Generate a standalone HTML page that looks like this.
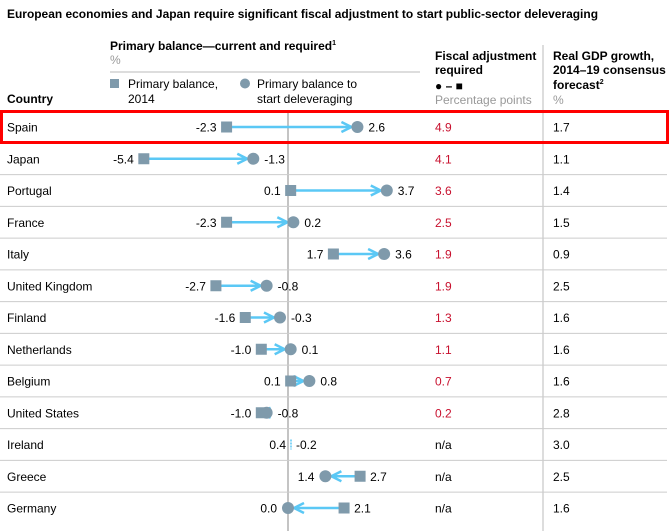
<!DOCTYPE html>
<html><head><meta charset="utf-8"><style>
body{margin:0;background:#fff;}
svg{display:block;font-family:"Liberation Sans",Arial,sans-serif;}
</style></head><body>
<svg id="c" width="670" height="531" viewBox="0 0 670 531">
<text x="7" y="18" font-size="12" font-weight="bold" fill="#000" textLength="591" lengthAdjust="spacingAndGlyphs">European economies and Japan require significant fiscal adjustment to start public-sector deleveraging</text>
<g font-size="12" fill="#000">
<text x="110" y="50" font-weight="bold">Primary balance—current and required<tspan font-size="7" dy="-5">1</tspan></text>
<text x="110" y="64" fill="#999">%</text>
<line x1="110" y1="72" x2="420" y2="72" stroke="#bbb" stroke-width="1"/>
<rect x="110" y="79" width="9" height="9" fill="#7f9aab"/>
<text x="128" y="88">Primary balance,</text>
<text x="128" y="103">2014</text>
<circle cx="245" cy="83.5" r="5" fill="#7f9aab"/>
<text x="257" y="88">Primary balance to</text>
<text x="257" y="103">start deleveraging</text>
<text x="7" y="103" font-weight="bold">Country</text>
<text x="435" y="60" font-weight="bold">Fiscal adjustment</text>
<text x="435" y="74" font-weight="bold">required</text>
<text x="435" y="90" font-weight="bold">● – ■</text>
<text x="435" y="104" fill="#999">Percentage points</text>
<text x="553" y="60" font-weight="bold">Real GDP growth,</text>
<text x="553" y="74" font-weight="bold">2014–19 consensus</text>
<text x="553" y="89" font-weight="bold">forecast<tspan font-size="7" dy="-5">2</tspan></text>
<text x="553" y="104" fill="#999">%</text>
</g>
<line x1="543" y1="45" x2="543" y2="531" stroke="#bbb"/>
<line x1="288" y1="111" x2="288" y2="531" stroke="#888"/>
<defs><marker id="ah" viewBox="0 0 10 10" refX="9" refY="5" markerWidth="5" markerHeight="5" orient="auto-start-reverse"><path d="M1,1 L9,5 L1,9" fill="none" stroke="#5bc8f5" stroke-width="2"/></marker></defs>
<g id="rows"></g>
<rect x="1.5" y="111.5" width="666" height="31" fill="none" stroke="#f00" stroke-width="3"/>
</svg>
<script>
const countries=["Spain","Japan","Portugal","France","Italy","United Kingdom","Finland","Netherlands","Belgium","United States","Ireland","Greece","Germany"];
const balance2014=[-2.3,-5.4,0.1,-2.3,1.7,-2.7,-1.6,-1.0,0.1,-1.0,0.4,2.7,2.1];
const balanceRequired=[2.6,-1.3,3.7,0.2,3.6,-0.8,-0.3,0.1,0.8,-0.8,-0.2,1.4,0.0];
const fiscalLabels=["4.9","4.1","3.6","2.5","1.9","1.9","1.3","1.1","0.7","0.2","n/a","n/a","n/a"];
const gdpLabels=["1.7","1.1","1.4","1.5","0.9","2.5","1.6","1.6","1.6","2.8","3.0","2.5","1.6"];
const NS="http://www.w3.org/2000/svg";
const g=document.getElementById('rows');
const x=v=>288+v*26.7;
const rowY=i=>127+i*31.75;
function mk(t,a){const e=document.createElementNS(NS,t);for(const k in a)e.setAttribute(k,a[k]);g.appendChild(e);return e;}
countries.forEach((c,i)=>{
 const y=rowY(i);
 if(i>0){const l=mk('line',{x1:0,y1:y-15.9,x2:667,y2:y-15.9,stroke:'#ccc'});
 
 }
 const t=mk('text',{x:7,y:y+4.5,'font-size':12});t.textContent=c;
 
 
 const a=balance2014[i],b=balanceRequired[i];
 const xa=x(a),xb=x(b);
 const ireland=(c==="Ireland");
 const dir=xb>xa?1:-1;
 if(!ireland){
  const ln=mk('line',{x1:xa,y1:y,x2:xb-dir*6,y2:y,stroke:'#5bc8f5','stroke-width':2.5,'marker-end':'url(#ah)'});
  
  
  const s=mk('rect',{x:xa-5.5,y:y-5.5,width:11,height:11,fill:'#7f9aab'});
  
  
  const ci=mk('circle',{cx:xb,cy:y,r:6,fill:'#7f9aab'});
  
  
 } else {
  const ln=mk('line',{x1:291,y1:y-5,x2:291,y2:y+5,stroke:'#5bc8f5','stroke-width':1.5,'stroke-dasharray':'2,1'});
  
  
 }
 let leftV,rightV,lx,rx;
 if(ireland){leftV=a;rightV=b;lx=286;rx=296;}
 else if(xa<=xb){leftV=a;rightV=b;lx=xa-10;rx=xb+11;}
 else{leftV=b;rightV=a;lx=xb-11;rx=xa+10;}
 const tl=mk('text',{x:lx,y:y+4.5,'font-size':12,'text-anchor':'end'});tl.textContent=leftV.toFixed(1);
 
 
 const tr=mk('text',{x:rx,y:y+4.5,'font-size':12});tr.textContent=rightV.toFixed(1);
 
 
 const f=mk('text',{x:435,y:y+4.5,'font-size':12,fill:fiscalLabels[i]==='n/a'?'#000':'#c8102e'});f.textContent=fiscalLabels[i];
 
 
 const gd=mk('text',{x:553,y:y+4.5,'font-size':12});gd.textContent=gdpLabels[i];
 
 
});
</script>
</body></html>
